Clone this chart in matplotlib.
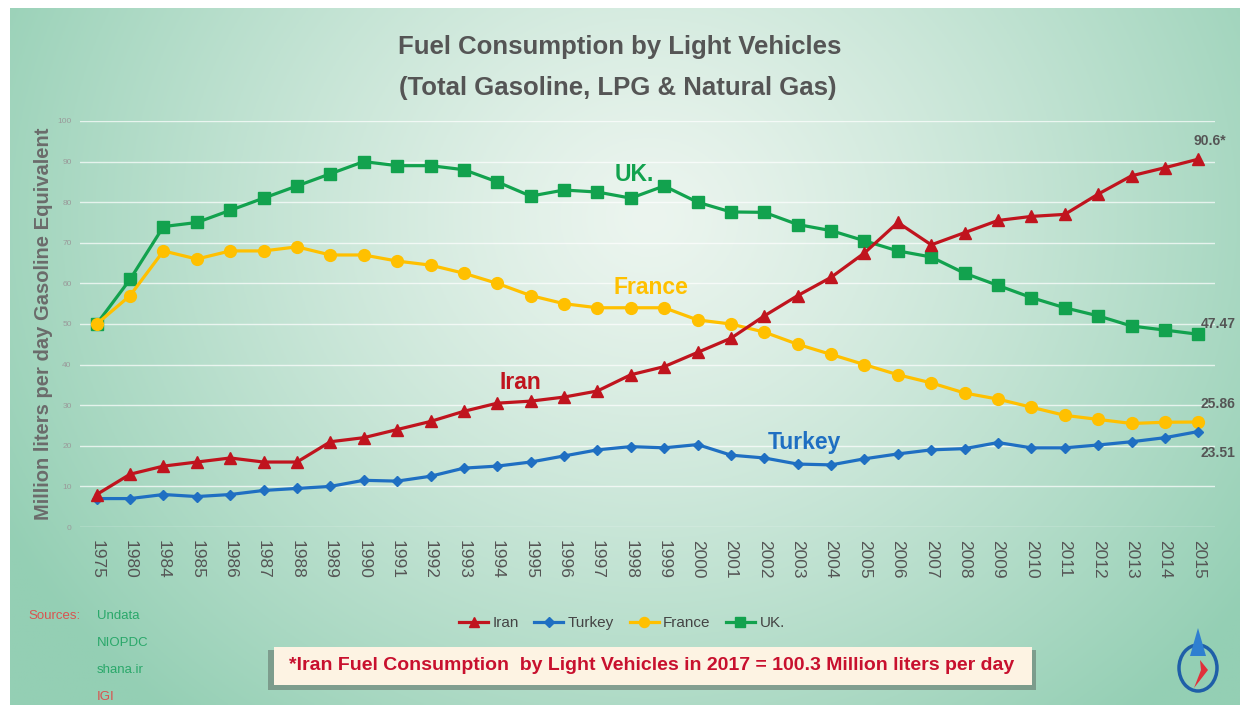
import numpy as np
import matplotlib.pyplot as plt
from matplotlib.patches import Rectangle, Ellipse, Polygon

plt.rcParams['font.family'] = ['Liberation Sans', 'DejaVu Sans']

# Categories (year labels on the x axis)
years = ['1975', '1980', '1984', '1985', '1986', '1987', '1988', '1989', '1990',
         '1991', '1992', '1993', '1994', '1995', '1996', '1997', '1998', '1999',
         '2000', '2001', '2002', '2003', '2004', '2005', '2006', '2007', '2008',
         '2009', '2010', '2011', '2012', '2013', '2014', '2015']

# Million liters per day
iran = [8, 13, 15, 16, 17, 16, 16, 21, 22, 24, 26, 28.5, 30.5, 31, 32, 33.5,
        37.5, 39.5, 43, 46.5, 52, 57, 61.5, 67.5, 75, 69.5, 72.5, 75.5, 76.5,
        77, 82, 86.5, 88.5, 90.6]
turkey = [7, 7, 8, 7.5, 8, 9, 9.5, 10, 11.5, 11.3, 12.5, 14.5, 15, 16, 17.5,
          19, 19.8, 19.5, 20.3, 17.7, 17, 15.5, 15.3, 16.8, 18, 19, 19.3, 20.8,
          19.5, 19.5, 20.2, 21, 22, 23.51]
france = [50, 57, 68, 66, 68, 68, 69, 67, 67, 65.5, 64.5, 62.5, 60, 57, 55, 54,
          54, 54, 51, 50, 48, 45, 42.5, 40, 37.5, 35.5, 33, 31.5, 29.5, 27.5,
          26.5, 25.5, 25.8, 25.86]
uk = [50, 61, 74, 75, 78, 81, 84, 87, 90, 89, 89, 88, 85, 81.5, 83, 82.5, 81,
      84, 80, 77.6, 77.5, 74.5, 73, 70.5, 68, 66.5, 62.5, 59.5, 56.5, 54, 52,
      49.5, 48.5, 47.47]

end_labels = ['90.6*', '25.86', '23.51', '47.47']
sources = ['Undata', 'NIOPDC', 'shana.ir', 'IGI']

W, H = 1249, 705
fig = plt.figure(figsize=(W / 100, H / 100), dpi=100, facecolor='white')

# gradient background
bg = fig.add_axes([10 / W, 0, 1230 / W, 697 / H])
bg.set_axis_off()
gx, gy = np.meshgrid(np.linspace(0, 1, 400), np.linspace(0, 1, 240))
d = np.sqrt(((gx - 0.52) / 0.6) ** 2 + ((gy - 0.3) / 0.95) ** 2)
t = np.clip(d, 0, 1) ** 1.2
inner = np.array([236, 245, 239]) / 255
outer = np.array([148, 207, 180]) / 255
img = inner[None, None, :] * (1 - t[..., None]) + outer[None, None, :] * t[..., None]
bg.imshow(img, aspect='auto', extent=[0, 1, 0, 1], origin='upper')
bg.set_xlim(0, 1)
bg.set_ylim(0, 1)

ax = fig.add_axes([80 / W, (H - 527) / H, 1135 / W, 406 / H])
ax.patch.set_alpha(0)
x = np.arange(len(years))

c_iran = '#c0141e'
c_turkey = '#1f6fc2'
c_france = '#ffc000'
c_uk = '#12a24e'

ax.plot(x, uk, color=c_uk, lw=2.3, marker='s', ms=8, label='UK.', zorder=3)
ax.plot(x, france, color=c_france, lw=2.3, marker='o', ms=8.5, label='France', zorder=3)
ax.plot(x, turkey, color=c_turkey, lw=2.3, marker='D', ms=5.5, label='Turkey', zorder=4)
ax.plot(x, iran, color=c_iran, lw=2.3, marker='^', ms=8, label='Iran', zorder=5)

ax.set_xlim(-0.5, len(years) - 0.5)
ax.set_ylim(0, 100)
ax.set_yticks(np.arange(0, 101, 10))
ax.set_yticklabels([str(v) for v in range(0, 101, 10)], fontsize=6, color='#9a9a9a')
ax.set_xticks(x)
ax.set_xticklabels(years, rotation=270, fontsize=12.5, color='#555555')
ax.tick_params(length=0, pad=6)
ax.tick_params(axis='x', pad=9)
ax.grid(axis='y', color='white', lw=1, alpha=0.7)
for s in ax.spines.values():
    s.set_visible(False)

ax.set_ylabel('Million liters per day Gasoline Equivalent', fontsize=14.5,
              fontweight='bold', color='#6b6b6b', labelpad=3)

# series names on the chart
ax.text(16.1, 86.7, 'UK.', color=c_uk, fontsize=16.5, fontweight='bold', ha='center', va='center')
ax.text(16.6, 58.9, 'France', color=c_france, fontsize=16.5, fontweight='bold', ha='center', va='center')
ax.text(12.7, 35.5, 'Iran', color=c_iran, fontsize=16.5, fontweight='bold', ha='center', va='center')
ax.text(21.2, 20.7, 'Turkey', color=c_turkey, fontsize=16.5, fontweight='bold', ha='center', va='center')

# end values
last = len(years) - 1
ax.text(last + 0.35, iran[-1] + 3.5, end_labels[0], fontsize=10, fontweight='bold', color='#555555', ha='center')
ax.text(last + 0.6, france[-1] + 3.5, end_labels[1], fontsize=10, fontweight='bold', color='#555555', ha='center')
ax.text(last + 0.6, turkey[-1] - 6.2, end_labels[2], fontsize=10, fontweight='bold', color='#555555', ha='center')
ax.text(last + 0.6, uk[-1] + 1.6, end_labels[3], fontsize=10, fontweight='bold', color='#555555', ha='center')

# title
fig.text(620 / W, 1 - 47 / H, 'Fuel Consumption by Light Vehicles', fontsize=18.5,
         fontweight='bold', color='#555555', ha='center', va='center')
fig.text(618 / W, 1 - 88 / H, '(Total Gasoline, LPG & Natural Gas)', fontsize=18.5,
         fontweight='bold', color='#555555', ha='center', va='center')

# legend
handles, labels = ax.get_legend_handles_labels()
order = [3, 2, 1, 0]
leg = fig.legend([handles[i] for i in order], [labels[i] for i in order],
                 loc='center', bbox_to_anchor=(622 / W, 1 - 623 / H), ncol=4,
                 frameon=False, fontsize=11, handlelength=1.9, columnspacing=1.0,
                 handletextpad=0.3, markerscale=0.85)
for txt in leg.get_texts():
    txt.set_color('#444444')

# sources
fig.text(28 / W, 1 - 616 / H, 'Sources:', fontsize=9.5, color='#d9534f', va='center')
for i, s in enumerate(sources):
    col = '#d9534f' if s == 'IGI' else '#2aa86a'
    fig.text(97 / W, 1 - (616 + i * 27) / H, s, fontsize=9.5, color=col, va='center')

# note box with shadow
shadow = Rectangle((268 / W, 1 - 690 / H), 768 / W, 40 / H, transform=fig.transFigure,
                   facecolor='#5f6f66', alpha=0.55, edgecolor='none')
fig.add_artist(shadow)
box = Rectangle((274 / W, 1 - 685 / H), 758 / W, 38 / H, transform=fig.transFigure,
                facecolor='#fdf3e3', edgecolor='none')
fig.add_artist(box)
fig.text(652 / W, 1 - 666 / H,
         '*Iran Fuel Consumption  by Light Vehicles in 2017 = 100.3 Million liters per day',
         fontsize=14, fontweight='bold', color='#c8102e', ha='center', va='center')

# small logo
lx, ly = 1198 / W, 1 - 668 / H
fig.add_artist(Ellipse((lx, ly), 38 / W, 46 / H, transform=fig.transFigure, fill=False,
                       edgecolor='#1f5fa8', lw=2.5))
fig.add_artist(Polygon([(lx, ly + 40 / H), (lx - 8 / W, ly + 12 / H), (lx + 8 / W, ly + 12 / H)],
                       closed=True, transform=fig.transFigure, facecolor='#2f7fd0', edgecolor='none'))
fig.add_artist(Polygon([(lx + 2 / W, ly + 8 / H), (lx + 10 / W, ly - 2 / H), (lx - 4 / W, ly - 20 / H),
                        (lx + 3 / W, ly - 2 / H)], closed=True, transform=fig.transFigure,
                       facecolor='#e0303a', edgecolor='none'))

fig.savefig('out.png', dpi=100, facecolor='white')
